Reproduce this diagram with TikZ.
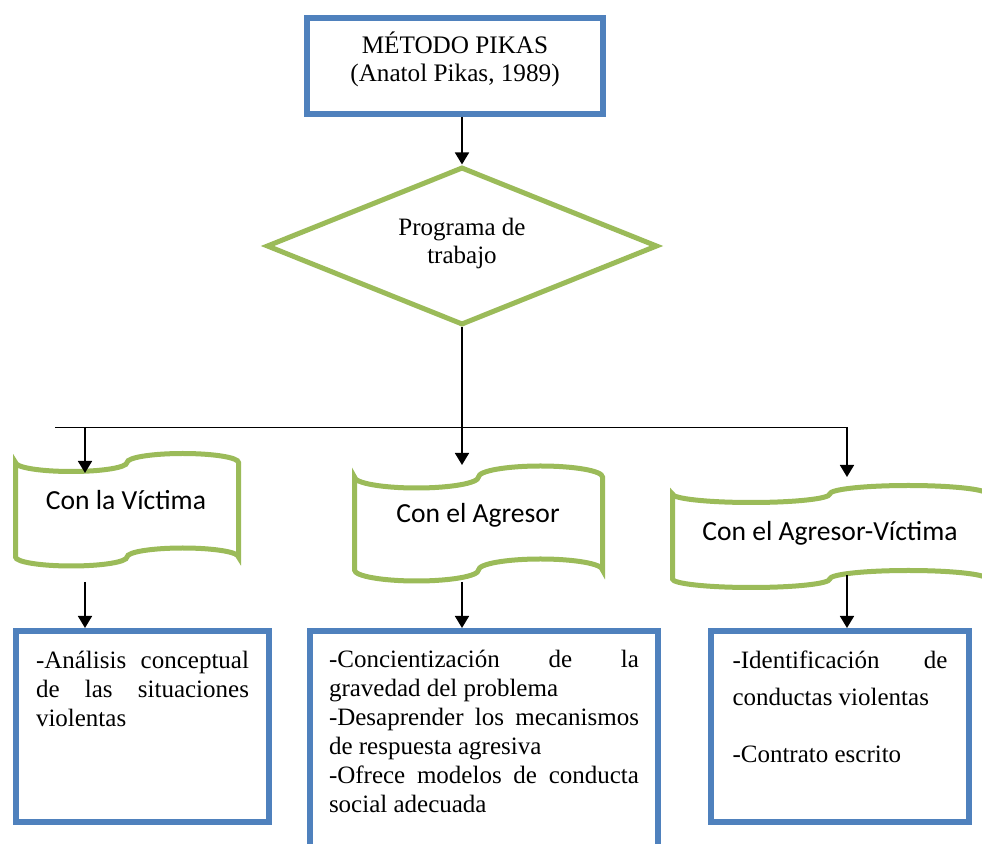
\documentclass[tikz,border=0pt]{standalone}
\usepackage{fontspec}
\setmainfont{Liberation Serif}
\newfontfamily\calibri{Carlito}
\usepackage{tikz}
\usetikzlibrary{arrows.meta,shapes.geometric}

\definecolor{bordeazul}{HTML}{4F81BD}
\definecolor{bordeverde}{HTML}{9BBB59}

\tikzset{
  caja/.style={draw=bordeazul, line width=3pt, inner sep=0pt, fill=white},
  rombo/.style={diamond, draw=bordeverde, line width=2.5pt, aspect=2.5, inner sep=0pt, fill=white},
  cinta/.style={draw=bordeverde, line width=2.5pt, fill=white},
  textocinta/.style={font=\calibri\fontsize{13.8}{16}\selectfont, anchor=base},
  textoserif/.style={font=\fontsize{12.5}{14.5}\selectfont},
  linea/.style={line width=0.8pt},
  flecha/.style={line width=0.8pt, -{Triangle[length=6pt,width=7pt]}},
  pics/cinta/.style args={#1/#2/#3}{code={
    \draw[cinta] (0,0)
      arc[start angle=180, end angle=360, x radius={#1*0.125pt}, y radius={#3*0.5pt}]
      arc[start angle=180, end angle=0, x radius={#1*0.125pt}, y radius={#3*0.5pt}]
      -- (#1,#2)
      arc[start angle=0, end angle=180, x radius={#1*0.125pt}, y radius={#3*0.5pt}]
      arc[start angle=0, end angle=-180, x radius={#1*0.125pt}, y radius={#3*0.5pt}]
      -- cycle;
  }}
}

\begin{document}
\begin{tikzpicture}[x=0.5pt, y=-0.5pt]
\useasboundingbox (0,0) rectangle (982,844);
\clip (0,0) rectangle (982,844);

% metodo y programa
\node[caja, minimum width=148pt, minimum height=48pt, align=center,
  font=\fontsize{12.6}{14}\selectfont, text depth=9.6pt] (metodo) at (455,66)
  {MÉTODO PIKAS\\(Anatol Pikas, 1989)};
\node[rombo, minimum width=195.5pt, minimum height=79pt, align=center,
  font=\fontsize{12.5}{14}\selectfont, text depth=5.6pt] (programa) at (462,246)
  {Programa de\\trabajo};

% las tres cintas
\pic at (15.5,462.5) {cinta=223/94.5/9};
\pic at (354.5,477) {cinta=248/93/11};
\pic at (672.5,494) {cinta=314.5/85/8.5};

\node[textocinta] (victima) at (126,510) {Con la Víctima};
\node[textocinta] (agresor) at (478,523) {Con el Agresor};
\node[textocinta] (mixto) at (830,541) {Con el Agresor-Víctima};

% cajas de abajo
\node[caja, textoserif, minimum width=126.5pt, minimum height=95.5pt] (analisis) at (142.5,726.5)
  {\parbox[c][79.5pt][t]{106.5pt}{\rule{0pt}{11pt}-Análisis\hfill conceptual\\
   de\hfill las\hfill situaciones\\
   violentas}};
\node[caja, textoserif, minimum width=174pt, minimum height=120pt] (concienciacion) at (484,751)
  {\parbox[c][105pt][t]{155pt}{\rule{0pt}{11pt}-Concientización\hfill de\hfill la\\
   gravedad del problema\\
   -Desaprender\hfill los\hfill mecanismos\\
   de respuesta agresiva\\
   -Ofrece\hfill modelos\hfill de\hfill conducta\\
   social adecuada}};
\node[caja, textoserif, minimum width=129pt, minimum height=95.5pt] (identificacion) at (840,726.5)
  {\parbox[c][79.5pt][t]{107.5pt}{\rule{0pt}{11pt}-Identificación\hfill de\\[4pt]
   conductas violentas\\[14pt]
   -Contrato escrito}};

% conectores
\coordinate (bus-l) at (55,427.5);
\coordinate (bus-r) at (847,427.5);
\coordinate (in-victima) at (85,473);
\coordinate (in-agresor) at (462,465);
\coordinate (in-mixto) at (847,477);
\coordinate (out-victima) at (85,582);
\coordinate (out-agresor) at (462,582);
\coordinate (out-mixto) at (847,575);

\draw[flecha] (metodo.south -| programa.north) -- (programa.north);
\draw[linea] (programa.south) -- (programa.south |- bus-l);
\draw[linea] (bus-l) -- (bus-r);
\draw[flecha] (in-victima |- bus-l) -- (in-victima);
\draw[flecha] (in-agresor |- bus-l) -- (in-agresor);
\draw[flecha] (in-mixto |- bus-l) -- (in-mixto);

\draw[flecha] (out-victima) -- (out-victima |- analisis.north);
\draw[flecha] (out-agresor) -- (out-agresor |- concienciacion.north);
\draw[flecha] (out-mixto) -- (out-mixto |- identificacion.north);
\end{tikzpicture}
\end{document}
